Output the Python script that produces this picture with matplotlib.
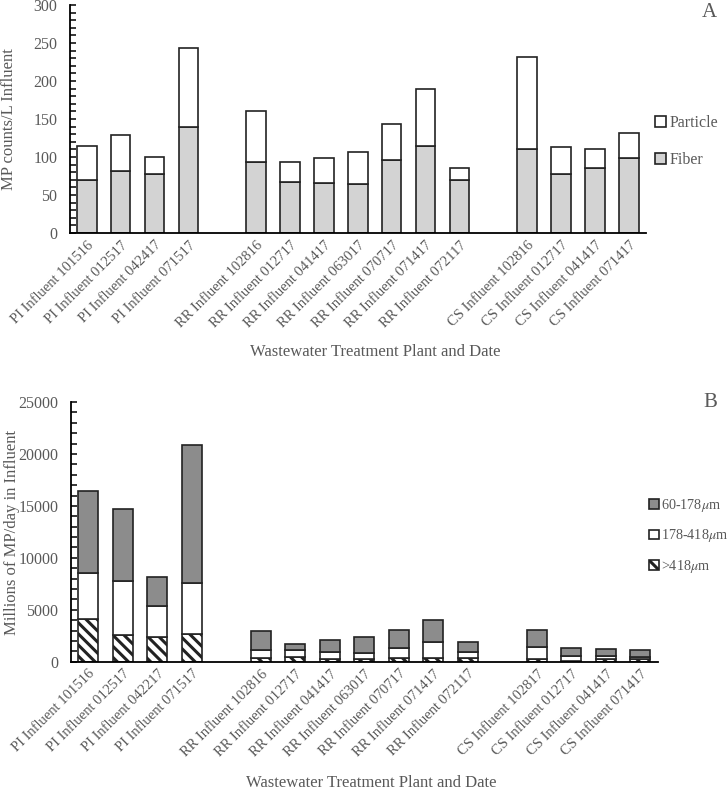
import matplotlib
matplotlib.use("Agg")
import matplotlib.pyplot as plt
from matplotlib.ticker import MultipleLocator
import numpy as np

plt.rcParams['font.family'] = ['Liberation Serif', 'DejaVu Serif']
plt.rcParams['mathtext.fontset'] = 'stix'
plt.rcParams['hatch.linewidth'] = 2.2

TXT = '#595959'

# ---------- Panel A data ----------
labels_a = ["PI Influent 101516", "PI Influent 012517", "PI Influent 042417", "PI Influent 071517",
            "RR Influent 102816", "RR Influent 012717", "RR Influent 041417", "RR Influent 063017",
            "RR Influent 070717", "RR Influent 071417", "RR Influent 072117",
            "CS Influent 102816", "CS Influent 012717", "CS Influent 041417", "CS Influent 071417"]
fiber = [70, 81, 78, 139.5, 94, 67, 66, 64, 96.5, 115, 70, 110, 78, 85, 99]
particle = [45, 48, 22, 103.5, 66, 27, 33, 43, 47.5, 74, 16, 121, 35, 25, 32]

# ---------- Panel B data ----------
labels_b = ["PI Influent 101516", "PI Influent 012517", "PI Influent 042217", "PI Influent 071517",
            "RR Influent 102816", "RR Influent 012717", "RR Influent 041417", "RR Influent 063017",
            "RR Influent 070717", "RR Influent 071417", "RR Influent 072117",
            "CS Influent 102817", "CS Influent 012717", "CS Influent 041417", "CS Influent 071417"]
size_gt418 = [4110, 2600, 2340, 2630, 320, 420, 230, 230, 390, 390, 320, 290, 100, 230, 230]
size_178_418 = [4400, 5140, 3020, 4950, 800, 670, 730, 640, 900, 1470, 610, 1120, 410, 350, 250]
size_60_178 = [7890, 7000, 2790, 13290, 1830, 640, 1160, 1540, 1770, 2150, 930, 1610, 840, 610, 610]

# slot positions with one empty slot between plants
pos = [0, 1, 2, 3, 5, 6, 7, 8, 9, 10, 11, 13, 14, 15, 16]

fig = plt.figure(figsize=(7.28, 7.94), dpi=100)

def style_axes(ax):
    for s in ['top', 'right']:
        ax.spines[s].set_visible(False)
    ax.spines['left'].set_linewidth(1.3)
    ax.spines['bottom'].set_linewidth(1.3)
    ax.tick_params(axis='y', which='both', direction='in', length=4, width=1.1,
                   labelcolor=TXT, labelsize=11.5, pad=9)
    ax.tick_params(axis='x', which='both', length=0, labelcolor=TXT, labelsize=10.5, pad=4)
    ax.set_xlim(-0.5, 16.5)

# ---------- Panel A ----------
axA = fig.add_axes([0.096, 0.7065, 0.791, 0.2872])
bw = 0.575
f = np.array(fiber)
p = np.array(particle)
bf = axA.bar(pos, f, width=bw, color='#d3d3d3', edgecolor='#222222', linewidth=1.2, label='Fiber')
bp = axA.bar(pos, p, bottom=f, width=bw, color='white', edgecolor='#222222', linewidth=1.2, label='Particle')
axA.set_ylim(0, 300)
axA.yaxis.set_major_locator(MultipleLocator(50))
axA.yaxis.set_minor_locator(MultipleLocator(10))
style_axes(axA)
axA.set_xticks(pos)
axA.set_xticklabels(labels_a, rotation=45, ha='right', rotation_mode='anchor')
fig.text(9 / 728, 1 - 119 / 794, 'MP counts/L Influent', color=TXT, fontsize=12,
         rotation=90, ha='center', va='center')
legA = axA.legend([bp, bf], ['Particle', 'Fiber'], loc='center left', bbox_to_anchor=(1.0, 0.4),
                  frameon=False, handlelength=0.7, handleheight=0.7, handletextpad=0.2,
                  labelspacing=1.3, fontsize=11.5, borderaxespad=0.2)
for t in legA.get_texts():
    t.set_color(TXT)
fig.text(0.985, 0.984, 'A', fontsize=15, color=TXT, ha='right', va='center')
fig.text(0.515, 0.5567, 'Wastewater Treatment Plant and Date', fontsize=12, color=TXT,
         ha='center', va='center')

# ---------- Panel B ----------
axB = fig.add_axes([0.0975, 0.1666, 0.806, 0.3271])
bw2 = 0.58
g1 = np.array(size_gt418)
g2 = np.array(size_178_418)
g3 = np.array(size_60_178)
b1 = axB.bar(pos, g1, width=bw2, color='white', edgecolor='#222222', hatch='\\\\\\',
             linewidth=1.2)
b2 = axB.bar(pos, g2, bottom=g1, width=bw2, color='white', edgecolor='#222222', linewidth=1.2)
b3 = axB.bar(pos, g3, bottom=g1 + g2, width=bw2, color='#8c8c8c', edgecolor='#222222', linewidth=1.2)
axB.set_ylim(0, 25000)
axB.yaxis.set_major_locator(MultipleLocator(5000))
axB.yaxis.set_minor_locator(MultipleLocator(1000))
style_axes(axB)
axB.set_xticks(pos)
axB.set_xticklabels(labels_b, rotation=45, ha='right', rotation_mode='anchor')
fig.text(12 / 728, 1 - 532 / 794, 'Millions of MP/day in Influent', color=TXT, fontsize=12,
         rotation=90, ha='center', va='center')
legB = fig.legend([b3, b2, b1], ['60-178$\\mu$m', '178-418$\\mu$m', '>418$\\mu$m'],
                  loc='center left', bbox_to_anchor=(0.891, 0.325),
                  frameon=False, handlelength=0.7, handleheight=0.7, handletextpad=0.15,
                  labelspacing=0.95, fontsize=10.2, borderaxespad=0.0, borderpad=0.0)
for t in legB.get_texts():
    t.set_color(TXT)
fig.text(0.985, 0.4937, 'B', fontsize=15, color=TXT, ha='right', va='center')
fig.text(0.51, 0.0139, 'Wastewater Treatment Plant and Date', fontsize=12, color=TXT,
         ha='center', va='center')

fig.savefig('out.png', dpi=100)
